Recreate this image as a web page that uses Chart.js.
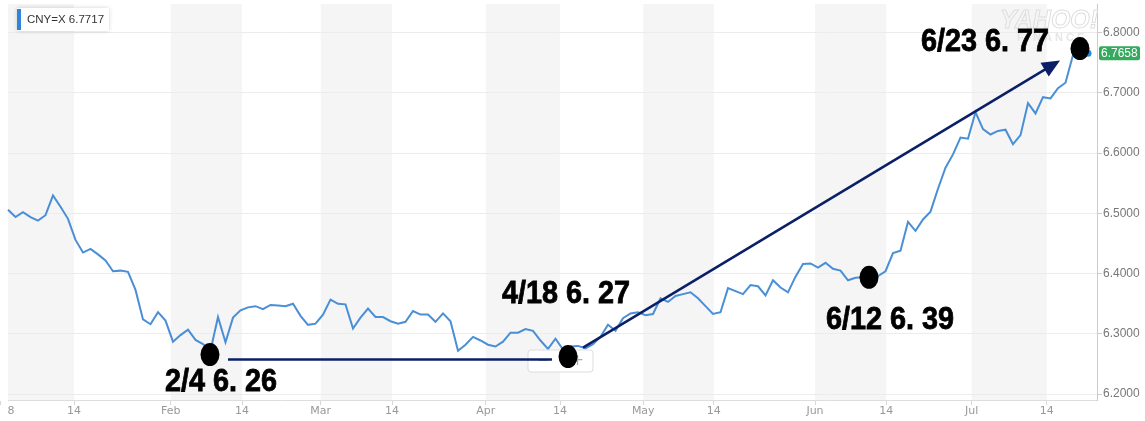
<!DOCTYPE html>
<html><head><meta charset="utf-8">
<script src="https://cdn.jsdelivr.net/npm/chart.js@4.4.1/dist/chart.umd.min.js"></script>
<style>html,body{margin:0;padding:0;background:#fff;overflow:hidden}#wrap{width:1145px;height:421px;position:relative}</style>
</head><body><div id="wrap"><canvas id="c"></canvas></div>
<script>
// ---- data ----
const seriesName = 'CNY=X';
const legendValue = '6.7717';
// daily closes, one per trading day (2 Jan .. 20 Jul)
const cnyClose = [
6.506,6.494,6.502,6.494,6.488,6.497,6.530,6.511,6.491,6.456,
6.435,6.441,6.432,6.422,6.404,6.405,6.403,6.373,6.324,6.316,
6.336,6.322,6.287,6.298,6.307,6.290,6.283,6.272,6.328,6.286,
6.327,6.339,6.344,6.346,6.341,6.348,6.347,6.346,6.350,6.330,
6.315,6.317,6.332,6.357,6.350,6.349,6.309,6.327,6.342,6.328,
6.328,6.321,6.317,6.320,6.338,6.332,6.332,6.320,6.334,6.321,
6.272,6.282,6.295,6.289,6.282,6.279,6.287,6.302,6.302,6.308,
6.305,6.289,6.275,6.292,6.274,6.279,6.280,6.276,6.283,6.295,
6.315,6.305,6.326,6.334,6.336,6.331,6.333,6.359,6.353,6.363,
6.366,6.369,6.359,6.346,6.333,6.336,6.376,6.371,6.366,6.381,
6.379,6.364,6.389,6.377,6.369,6.395,6.416,6.417,6.410,6.418,
6.408,6.405,6.389,6.393,6.394,6.398,6.396,6.404,6.434,6.438,
6.486,6.471,6.490,6.503,6.541,6.576,6.598,6.626,6.624,6.668,
6.640,6.631,6.637,6.639,6.615,6.630,6.683,6.666,6.693,6.691,
6.708,6.717,6.763,6.766,6.7658
];
const dayIndex = cnyClose.map((_, i) => i);
// x tick positions (in trading-day units) and their labels
const xTickPos    = [-1, 8.8, 21.7, 31.2, 41.7, 51.2, 63.7, 73.6, 84.7, 94.1, 107.6, 117.1, 128.5, 138.5];
const xTickLabels = ['2018','14','Feb','14','Mar','14','Apr','14','May','14','Jun','14','Jul','14'];
const yTicks = [6.2, 6.3, 6.4, 6.5, 6.6, 6.7, 6.8];
// annotations (data units)
const markerPts = [{x:26.93,y:6.2657},{x:74.67,y:6.2624},{x:114.8,y:6.3939},{x:142.93,y:6.7737}];
const noteTexts = ['2/4 6. 26','4/18 6. 27','6/12 6. 39','6/23 6. 77'];
const notePos   = [{x:20.93,y:6.2049},{x:65.87,y:6.3520},{x:109.07,y:6.3076},{x:121.73,y:6.7704}];
const flatLine  = [{x:29.33,y:6.2575},{x:72.53,y:6.2575}];
const arrowLine = [{x:76.67,y:6.2772},{x:140.27,y:6.754}];

const NAVY = '#0b1f66';

const decor = {
  id: 'decor',
  beforeDraw(chart) {
    const {ctx, chartArea: a, scales: {x}} = chart;
    ctx.save();
    ctx.fillStyle = '#f5f5f5';
    for (let k = 0; k + 1 < xTickPos.length; k += 2) {
      const l = Math.max(a.left, x.getPixelForValue(xTickPos[k]));
      const r = Math.min(a.right, x.getPixelForValue(xTickPos[k + 1]));
      if (r > l) ctx.fillRect(l, a.top, r - l, a.bottom - a.top);
    }
    ctx.restore();
  },
  beforeDatasetsDraw(chart) {
    const {ctx, chartArea: a} = chart;
    ctx.save();
    ctx.font = 'italic bold 25px "Liberation Sans"';
    ctx.strokeStyle = '#dedede';
    ctx.lineWidth = 1;
    ctx.textBaseline = 'alphabetic';
    ctx.strokeText('YAHOO!', a.right - 97, 28);
    ctx.font = 'bold 11px "Liberation Sans"';
    ctx.fillStyle = '#e6e6e6';
    ctx.fillText('F I N A N C E', a.right - 80, 41);
    ctx.restore();
  },
  afterDatasetsDraw(chart) {
    const {ctx, chartArea: a, scales: {x, y}} = chart;
    const P = p => [x.getPixelForValue(p.x), y.getPixelForValue(p.y)];
    ctx.save();
    // legend box
    ctx.shadowColor = 'rgba(0,0,0,0.18)';
    ctx.shadowBlur = 4;
    ctx.fillStyle = '#fff';
    ctx.fillRect(a.left + 9, 8, 92, 23);
    ctx.shadowBlur = 0;
    ctx.shadowColor = 'transparent';
    ctx.fillStyle = '#2f86d9';
    ctx.fillRect(a.left + 9, 9, 4, 21);
    ctx.fillStyle = '#333';
    ctx.font = '11.5px "Liberation Sans"';
    ctx.textBaseline = 'middle';
    ctx.fillText(seriesName + ' ' + legendValue, a.left + 19, 20);
    // zoom control
    const cx = (a.left + a.right) / 2 + 8;
    ctx.fillStyle = '#fff';
    ctx.strokeStyle = '#dddddd';
    ctx.lineWidth = 1;
    ctx.beginPath();
    ctx.roundRect(cx - 32.5, a.bottom - 50, 65, 22, 3);
    ctx.fill(); ctx.stroke();
    ctx.fillStyle = '#aaa';
    ctx.font = '15px "DejaVu Sans"';
    ctx.textAlign = 'center';
    ctx.fillText('\u2212', cx - 17, a.bottom - 39);
    ctx.fillText('+', cx + 17, a.bottom - 39);
    ctx.textAlign = 'left';
    // flat line
    ctx.strokeStyle = NAVY;
    ctx.lineWidth = 2.5;
    let [x1, y1] = P(flatLine[0]), [x2, y2] = P(flatLine[1]);
    ctx.beginPath(); ctx.moveTo(x1, y1); ctx.lineTo(x2, y2); ctx.stroke();
    // arrow
    [x1, y1] = P(arrowLine[0]); [x2, y2] = P(arrowLine[1]);
    const len = Math.hypot(x2 - x1, y2 - y1), ux = (x2 - x1) / len, uy = (y2 - y1) / len;
    const hl = 18, hw = 8;
    ctx.beginPath(); ctx.moveTo(x1, y1); ctx.lineTo(x2 - ux * hl * 0.8, y2 - uy * hl * 0.8); ctx.stroke();
    ctx.fillStyle = NAVY;
    ctx.beginPath();
    ctx.moveTo(x2, y2);
    ctx.lineTo(x2 - ux * hl - uy * hw, y2 - uy * hl + ux * hw);
    ctx.lineTo(x2 - ux * hl + uy * hw, y2 - uy * hl - ux * hw);
    ctx.closePath(); ctx.fill();
    // dots
    ctx.fillStyle = '#000';
    markerPts.forEach(p => {
      const [px, py] = P(p);
      ctx.beginPath(); ctx.ellipse(px, py, 9.5, 11.5, 0, 0, Math.PI * 2); ctx.fill();
    });
    // notes
    ctx.font = 'bold 32px "Liberation Sans"';
    ctx.textBaseline = 'alphabetic';
    ctx.fillStyle = '#000';
    ctx.strokeStyle = '#000';
    ctx.lineWidth = 0.8;
    noteTexts.forEach((t, i) => {
      const [px, py] = P(notePos[i]);
      ctx.save();
      ctx.translate(px, py);
      ctx.scale(0.9, 1);
      ctx.fillText(t, 0, 0);
      ctx.strokeText(t, 0, 0);
      ctx.restore();
    });
    // last value tag
    const last = cnyClose[cnyClose.length - 1];
    const ty = y.getPixelForValue(last);
    ctx.fillStyle = '#35a95e';
    ctx.beginPath(); ctx.roundRect(a.right + 2, ty - 7, 41, 14, 2); ctx.fill();
    ctx.fillStyle = '#fff';
    ctx.font = '12px "Liberation Sans"';
    ctx.textBaseline = 'middle';
    ctx.fillText(last.toFixed(4), a.right + 4, ty + 0.5);
    ctx.restore();
  },
  afterDraw(chart) {
    // x tick labels, clipped at the plot's left edge like the original
    const {ctx, chartArea: a, scales: {x}} = chart;
    ctx.save();
    ctx.beginPath();
    ctx.rect(a.left - 1, a.bottom + 1, chart.width, chart.height - a.bottom);
    ctx.clip();
    ctx.fillStyle = '#999';
    ctx.font = '11px "DejaVu Sans"';
    ctx.textAlign = 'center';
    ctx.textBaseline = 'middle';
    xTickPos.forEach((v, i) => ctx.fillText(xTickLabels[i], x.getPixelForValue(v), a.bottom + 11));
    ctx.restore();
  }
};

new Chart(document.getElementById('c'), {
  type: 'line',
  data: {
    datasets: [{
      data: dayIndex.map(i => ({x: i, y: cnyClose[i]})),
      borderColor: '#4a8fd6',
      borderWidth: 2,
      tension: 0,
      pointRadius: c => c.dataIndex === cnyClose.length - 1 ? 3.5 : 0,
      pointBackgroundColor: '#1f88e6',
      pointBorderWidth: 0,
      clip: false
    }]
  },
  options: {
    responsive: true,
    maintainAspectRatio: false,
    animation: false,
    layout: {padding: {left: 8, top: 0, right: 0, bottom: 0}},
    plugins: {legend: {display: false}, tooltip: {enabled: false}},
    scales: {
      x: {
        type: 'linear', min: 0, max: 145.2,
        afterBuildTicks: s => { s.ticks = xTickPos.map(v => ({value: v})); },
        afterFit: s => { s.paddingLeft = 0; s.paddingRight = 0; s.height = 21; },
        ticks: {display: false, autoSkip: false, maxRotation: 0, minRotation: 0},
        grid: {display: true, drawOnChartArea: false, drawTicks: true, tickLength: 5, tickColor: '#d8d8d8'},
        border: {display: true, color: '#dddddd'}
      },
      y: {
        position: 'right', min: 6.1902, max: 6.8477,
        afterBuildTicks: s => { s.ticks = yTicks.map(v => ({value: v})); },
        afterFit: s => { s.width = 48; s.paddingTop = 0; s.paddingBottom = 0; },
        ticks: {padding: 1, color: '#777', font: {family: 'Liberation Sans', size: 12},
                callback: v => Number(v).toFixed(4)},
        grid: {color: '#ececec', tickLength: 5, tickColor: '#cccccc'},
        border: {display: true, color: '#cccccc'}
      }
    }
  },
  plugins: [decor]
});
</script></body></html>
